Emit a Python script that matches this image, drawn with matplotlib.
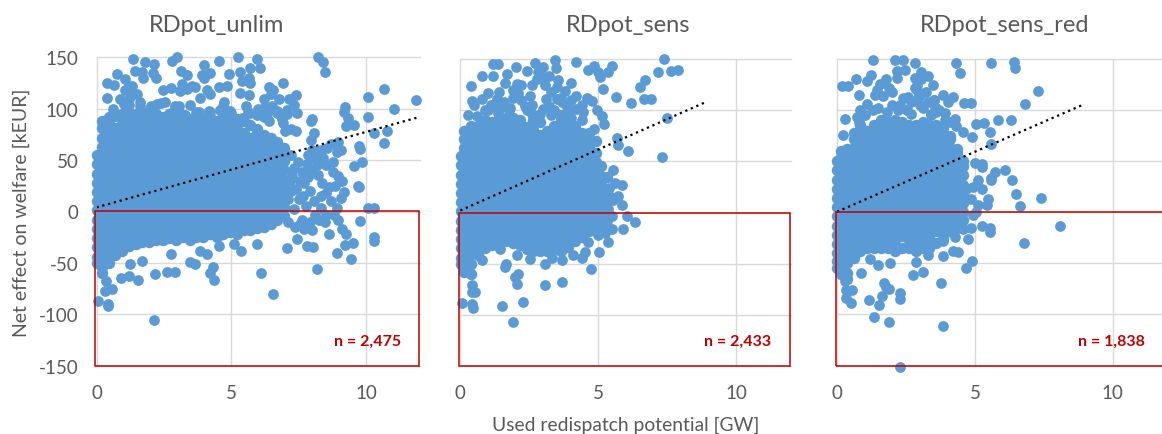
import matplotlib
matplotlib.use("Agg")
import matplotlib.pyplot as plt
from matplotlib.patches import Rectangle

W, H = 1162, 435
titles = ["RDpot_unlim", "RDpot_sens", "RDpot_sens_red"]
counts = ["n = 2,475", "n = 2,433", "n = 1,838"]
y_ticks = [-150, -100, -50, 0, 50, 100, 150]
x_ticks = [0, 5, 10]

# ---- RDpot_unlim: individually readable points (GW, kEUR)
unlim_x = [1.36,1.78,2.14,2.80,2.98,3.97,4.53,5.24,5.95,6.05,8.2,8.4,8.45,3.12,3.35,0.76,0.38,0.63,1.04,1.44,1.68,1.74,2.09,2.22,
           0.38,0.88,1.07,1.31,1.5,1.19,2.45,2.76,3.17,3.54,3.89,4.2,3.97,4.1,4.22,4.53,4.9,4.84,5.33,5.4,5.68,5.64,5.68,5.33,5.64,5.52,
           6.39,6.55,6.92,6.2,6.45,6.76,7.38,7.13,7.32,7.44,7.07,8.0,7.94,9.2,9.15,9.3,9.24,9.52,10.06,10.66,11.83,11.03,10.06,10.75,10.28,
           10.66,9.73,9.77,9.82,9.52,9.67,9.73,9.17,9.05,10.06,10.26,9.75,10.28,10.26,9.5,9.2,9.42,8.92,8.18,7.81,8.03,7.07,7.44,6.52,6.08,
           4.34,4.22,4.32,2.92,2.61,2.18,1.52,1.19,0.9,1.23,1.68,3.48,3.66,4.1,3.85,5.35,4.53,5.95,5.09,2.76,2.12,0.04,0.41,0.44,0.32,0.57,0.36,
           7.2,7.3,7.15,7.4,7.5,7.3,7.1,7.35,7.6,7.7,7.8,7.65,7.9,7.75,7.6,7.7,8.0,8.0,8.1,8.2,8.05,8.3,8.25,8.45,8.35,8.5,8.55,8.7,8.6,8.75,8.8,8.6,8.95,8.7,8.95,9.1,9.25,8.9,9.05,8.95,7.95,7.4,7.2,8.05,7.05,
           0.6,1.0,1.6,2.0,2.4,2.9,3.0,3.7,4.2,4.7,4.6,5.0,5.6,6.0,6.3,6.7,6.4,6.9,7.0,6.2,
           1.19,1.19,1.38,1.62,1.13,2.0,2.24,2.55,3.11,3.36,3.66,3.85,3.48,3.05,2.86,3.29,3.79,4.16,4.59,4.72,4.96,5.4,5.7,6.2,6.51,6.7,6.88,6.3,5.95,
           7.25,7.45,7.55,7.85,8.15,8.3,8.1,8.5,8.85,8.4,8.75,9.1,7.1,7.2,7.55,7.9,8.5,8.9,7.85,7.95,8.3]
unlim_y = [149,146,144,147,150,143,147,150,149,140,150,146,136,137,133,134,125,123,129,137,136,130,135,130,
           111,110,118,122,114,104,118,120,124,122,133,135,130,118,114,121,134,122,136,127,140,130,125,115,113,103,
           121,118,125,110,114,110,113,110,104,96,99,90,88,102,97,91,83,84,112,119,109,100,92,78,76,
           67,64,61,48,44,25,24,19,13,3,3,-9,-25,-29,-31,-33,-46,-40,-56,-34,-35,-36,-27,-80,-60,
           -67,-60,-54,-59,-59,-61,-67,-63,-65,-51,-48,-49,-51,-41,-38,-38,-34,-32,-32,-41,-106,-87,-90,-92,-77,-75,-68,
           55,42,30,22,12,2,-10,-15,38,28,46,15,20,5,-8,-17,-18,60,52,36,10,3,-8,-10,28,45,62,66,24,38,-3,-22,35,10,-8,-17,-22,58,60,68,70,78,80,76,95,
           100,105,103,103,106,103,97,97,97,103,98,96,97,100,96,98,88,86,78,92,
           122,110,114,107,104,102,105,107,117,119,121,111,104,103,98,94,97,98,99,107,98,91,96,101,103,96,90,91,94,
           35,48,30,34,45,15,-3,18,25,52,48,30,12,20,-12,-10,-3,3,55,40,60]

# ---- RDpot_unlim: dense cloud, read column by column
unlim_col_x = [0.02,0.2,0.45,0.7,0.95,1.2,1.45,1.7,1.95,2.2,2.45,2.7,2.95,3.2,3.45,3.7,3.95,4.2,4.45,4.7,4.95,5.2,5.45,5.7,5.95,6.2,6.45,6.7,6.95]
unlim_col_y = [
 [55,46,37,28,19,10,1,-8,-17,-26,-35,-44,-50],
 [88,81,72,63,54,45,36,27,18,9,0,-9,-18,-27,-36,-45,-54,-60],
 [92,85,76,67,58,49,40,31,22,13,4,-5,-14,-23,-32,-41,-50],
 [93,81,72,63,54,45,36,27,18,9,0,-9,-18,-27,-36,-42],
 [95,85,76,67,58,49,40,31,22,13,4,-5,-14,-23,-32,-38],
 [96,90,81,72,63,54,45,36,27,18,9,0,-9,-18,-27,-34],
 [95,85,76,67,58,49,40,31,22,13,4,-5,-14,-23,-32],
 [97,90,81,72,63,54,45,36,27,18,9,0,-9,-18,-27,-30],
 [93,85,76,67,58,49,40,31,22,13,4,-5,-14,-23,-30],
 [95,90,81,72,63,54,45,36,27,18,9,0,-9,-18,-28],
 [92,85,76,67,58,49,40,31,22,13,4,-5,-14,-23,-28],
 [95,90,81,72,63,54,45,36,27,18,9,0,-9,-18,-26],
 [92,85,76,67,58,49,40,31,22,13,4,-5,-14,-23,-28],
 [94,90,81,72,63,54,45,36,27,18,9,0,-9,-18,-25],
 [90,85,76,67,58,49,40,31,22,13,4,-5,-14,-23,-28],
 [92,88,81,72,63,54,45,36,27,18,9,0,-9,-18,-25],
 [90,85,76,67,58,49,40,31,22,13,4,-5,-14,-25],
 [92,88,81,72,63,54,45,36,27,18,9,0,-9,-18,-22],
 [88,85,76,67,58,49,40,31,22,13,4,-5,-14,-25],
 [92,88,81,72,63,54,45,36,27,18,9,0,-9,-18,-22],
 [88,85,76,67,58,49,40,31,22,13,4,-5,-14,-20],
 [90,81,72,63,54,45,36,27,18,9,0,-9,-18,-22],
 [88,76,67,58,49,40,31,22,13,4,-5,-14,-18],
 [84,72,63,54,45,36,27,18,9,0,-9,-18],
 [80,76,67,58,49,40,31,22,13,4,-5,-14,-16],
 [75,72,63,54,45,36,27,18,9,0,-9,-15],
 [72,67,58,49,40,31,22,13,4,-5,-12],
 [68,63,54,45,36,27,18,9,0,-8],
 [62,58,49,40,31,22,13,4,-4],
]

# ---- RDpot_sens
sens_x = [1.2,1.38,2.02,2.4,2.7,3.0,3.43,3.47,4.19,4.61,4.84,5.0,5.06,5.36,5.51,7.39,7.15,7.63,7.87,6.69,6.51,5.16,5.63,6.17,6.65,6.91,7.48,7.29,6.09,5.69,5.72,
          .37,.77,1.2,1.68,1.62,2.07,2.1,2.77,3.07,3.55,3.49,4.0,3.79,2.52,3.1,4.21,4.58,4.76,.41,.77,1.01,1.32,1.5,2.34,3.0,3.49,3.85,4.21,4.46,4.94,5.12,5.21,.29,.59,
          6.34,6.03,5.85,5.85,5.6,5.52,5.72,5.88,5.48,5.36,5.04,4.61,4.72,3.67,3.07,2.1,1.98,2.07,2.28,1.52,1.92,.05,.41,.45,.41,.53,.41,1.65,1.62,3.07,2.52,2.04,3.31,3.7,4.07,4.4,4.52,1.44,.77,
          5.3,5.45,5.2,5.35,5.5,5.3,5.15,5.55,5.4,5.0,5.25,1.0,1.35,1.75,2.6,3.3,3.9,4.4,4.0,4.85,
          .5,.9,1.1,1.3,1.6,1.8,2.2,2.4,2.6,2.9,3.2,3.4,3.7,4.0,3.3,3.65,4.4,1.4,1.9,2.2,2.6,2.9,3.2,3.0,2.8,1.9]
sens_y = [145,145,142,138,146,142,149,141,147,139,143,137,132,137,143,150,137,138,139,129,123,121,113,107,111,111,92,54,60,73,66,
          124,133,133,135,127,126,117,130,125,129,123,127,119,114,111,114,112,109,109,111,117,111,103,104,101,111,103,101,98,100,94,86,95,94,
          -9,-3,7,27,29,42,16,-16,-16,-29,-39,-29,-55,-68,-71,-60,-63,-70,-87,-91,-107,-88,-89,-93,-78,-78,-71,-50,-53,-50,-45,-42,-44,-46,-42,-44,-39,-36,-46,
          20,15,8,3,-3,-8,-14,12,24,-22,-20,100,97,100,96,95,98,90,92,82,
          105,100,105,103,108,102,110,100,105,96,104,100,108,110,118,112,105,118,120,125,125,135,133,132,137,112]
sens_col_x = [0.02,0.15,0.4,0.65,0.9,1.15,1.4,1.65,1.9,2.15,2.4,2.65,2.9,3.15,3.4,3.65,3.9,4.15,4.4,4.65,4.9,5.1,5.3]
sens_col_y = [
 [55,46,37,28,19,10,1,-8,-17,-26,-35,-44,-50],
 [80,72,63,54,45,36,27,18,9,0,-9,-18,-27,-36,-45,-54,-58],
 [85,76,67,58,49,40,31,22,13,4,-5,-14,-23,-32,-41,-50,-60],
 [85,81,72,63,54,45,36,27,18,9,0,-9,-18,-27,-36,-42],
 [90,85,76,67,58,49,40,31,22,13,4,-5,-14,-23,-32,-35],
 [88,81,72,63,54,45,36,27,18,9,0,-9,-18,-27,-32],
 [92,85,76,67,58,49,40,31,22,13,4,-5,-14,-23,-30],
 [92,88,81,72,63,54,45,36,27,18,9,0,-9,-18,-28],
 [92,85,76,67,58,49,40,31,22,13,4,-5,-14,-23,-30],
 [90,81,72,63,54,45,36,27,18,9,0,-9,-18,-27,-32],
 [84,76,67,58,49,40,31,22,13,4,-5,-14,-23,-32,-36],
 [90,81,72,63,54,45,36,27,18,9,0,-9,-18,-27,-38],
 [88,76,67,58,49,40,31,22,13,4,-5,-14,-23,-32,-38],
 [80,72,63,54,45,36,27,18,9,0,-9,-18,-27,-38],
 [85,76,67,58,49,40,31,22,13,4,-5,-14,-23,-32,-36],
 [95,90,81,72,63,54,45,36,27,18,9,0,-9,-18,-27,-38],
 [90,85,76,67,58,49,40,31,22,13,4,-5,-14,-23,-34],
 [85,81,72,63,54,45,36,27,18,9,0,-9,-18,-28],
 [78,67,58,49,40,31,22,13,4,-5,-14,-24],
 [78,72,63,54,45,36,27,18,9,0,-9,-18],
 [70,58,49,40,31,22,13,4,-5,-12],
 [45,36,27,18,9,0,-8],
 [35,22,13,4,-5,-15],
]

# ---- RDpot_sens_red
red_x = [1.31,2.12,2.38,2.82,4.33,4.45,5.6,6.43,6.45,7.3,6.8,5.84,6.3,5.03,5.33,5.54,4.91,5.6,4.99,5.27,5.27,6.08,5.72,5.57,5.6,5.11,6.33,6.48,7.38,6.65,8.09,6.78,
         5.54,5.56,5.24,4.87,4.75,4.91,4.67,4.39,4.21,3.85,3.76,3.12,2.76,2.88,3.3,1.7,1.77,1.89,2.28,2.27,1.62,1.16,1.53,1.35,1.89,3.84,2.27,.31,.53,.33,.49,.87,1.5,1.92,1.19,.29,
         .17,.39,.69,.81,1.07,1.22,1.56,1.77,2.16,2.18,2.46,2.82,3.06,3.3,3.49,2.82,3.24,1.38,1.68,2.28,2.58,3.85,4.21,4.03,4.61,4.87,1.07,.29,.71,1.5,1.8,3.12,3.55,3.93,4.29,4.57,.2,
         4.69,4.93,5.24,5.48,5.44,5.05,4.93,4.87,5.11,4.57,4.27,3.85,2.9,2.95,3.0,2.55,2.7,3.4,3.5,3.6,
         .85,1.0,1.3,2.0,2.4,2.7,3.0,2.9,3.05,3.3,3.5,3.7,2.55,2.2,3.4,3.9,4.1,4.3,.8,1.9,1.45,2.0]
red_y = [149,149,149,146,146,136,146,147,141,119,106,90,90,86,87,79,74,67,48,47,44,41,39,34,32,32,32,18,14,6,-13,-30,
         -15,-19,-13,-15,-26,-48,-55,-39,-38,-43,-69,-58,-61,-49,-42,-69,-73,-75,-79,-85,-82,-86,-91,-103,-107,-111,-151,-76,-76,-84,-89,-59,-52,-50,-46,-67,
         124,124,130,115,128,134,126,130,131,138,139,131,137,133,125,122,118,115,114,105,113,115,113,108,107,107,106,91,93,102,98,102,103,97,91,79,76,
         23,25,23,13,7,0,-3,13,7,-16,-24,-28,120,112,105,100,96,96,110,98,
         100,95,100,105,112,108,115,125,130,108,110,100,100,100,95,90,88,84,88,122,120,118]
red_col_x = [0.0,0.15,0.35,0.6,0.85,1.1,1.35,1.6,1.85,2.1,2.35,2.6,2.85,3.1,3.35,3.6,3.85,4.1,4.35,4.55]
red_col_y = [
 [50,41,32,23,14,5,-4,-13,-22,-31,-40,-48,-55],
 [60,54,45,36,27,18,9,0,-9,-18,-27,-36,-45,-54,-60],
 [62,58,49,40,31,22,13,4,-5,-14,-23,-32,-41,-50,-59,-65],
 [78,72,63,54,45,36,27,18,9,0,-9,-18,-27,-36,-45],
 [85,76,67,58,49,40,31,22,13,4,-5,-14,-23,-32,-38],
 [80,72,63,54,45,36,27,18,9,0,-9,-18,-27,-35],
 [85,76,67,58,49,40,31,22,13,4,-5,-14,-23,-32,-35],
 [90,81,72,63,54,45,36,27,18,9,0,-9,-18,-27,-35],
 [88,85,76,67,58,49,40,31,22,13,4,-5,-14,-23,-32,-35],
 [90,81,72,63,54,45,36,27,18,9,0,-9,-18,-27,-38],
 [88,85,76,67,58,49,40,31,22,13,4,-5,-14,-23,-35],
 [85,81,72,63,54,45,36,27,18,9,0,-9,-18,-27,-35],
 [85,76,67,58,49,40,31,22,13,4,-5,-14,-23,-32,-38],
 [88,81,72,63,54,45,36,27,18,9,0,-9,-18,-27,-35],
 [85,76,67,58,49,40,31,22,13,4,-5,-14,-23,-32,-35],
 [85,81,72,63,54,45,36,27,18,9,0,-9,-18,-30],
 [82,76,67,58,49,40,31,22,13,4,-5,-14,-25],
 [75,72,63,54,45,36,27,18,9,0,-9,-18],
 [62,58,49,40,31,22,13,4,-5,-15],
 [50,45,36,27,18,9,0,-8],
]

# ---- trend lines (GW, kEUR)
trend_x = [[0, 11.95], [0, 8.9], [0, 8.9]]
trend_y = [[4, 92], [2, 108], [0.5, 105]]

point_x = [unlim_x, sens_x, red_x]
point_y = [unlim_y, sens_y, red_y]
column_x = [unlim_col_x, sens_col_x, red_col_x]
column_y = [unlim_col_y, sens_col_y, red_col_y]

# layout in pixels: left edge, right edge (x=12), top, bottom
boxes = [(96.5, 420.5, 58.5, 366.5), (460.3, 791.5, 60, 367), (837, 1168, 60, 366.5)]
title_px = [217, 628, 1005]
count_px = [367.5, 737.5, 1111.5]

GRAY = "#595959"
GRID = "#D9D9D9"
BLUE = "#5B9BD5"
RED = "#C00000"
plt.rcParams["font.family"] = ["Lato", "DejaVu Sans"]
plt.rcParams["axes.unicode_minus"] = False

fig = plt.figure(figsize=(W / 100, H / 100), dpi=100)
for i in range(3):
    l, r, t, b = boxes[i]
    ax = fig.add_axes([l / W, 1 - b / H, (r - l) / W, (b - t) / H])
    ax.set_xlim(0, 12)
    ax.set_ylim(-150, 150)
    ax.set_xticks(x_ticks)
    ax.set_yticks(y_ticks)
    ax.grid(True, color=GRID, lw=1.0, zorder=0)
    ax.set_axisbelow(True)
    for s in ax.spines.values():
        s.set_visible(False)
    ax.tick_params(axis="x", length=0, labelsize=13.5, colors=GRAY, pad=13)
    ax.tick_params(axis="y", length=0, labelsize=13.5, colors=GRAY, pad=13, labelleft=(i == 0))
    for gl in ax.get_xgridlines() + ax.get_ygridlines():
        gl.set_clip_on(False)

    cx_all, cy_all = [], []
    for cx, cy in zip(column_x[i], column_y[i]):
        cx_all += [cx] * len(cy)
        cy_all += cy
    ax.scatter(cx_all, cy_all, s=68, color=BLUE, linewidths=0, zorder=3, clip_on=False)
    ax.scatter(point_x[i], point_y[i], s=60, color=BLUE, linewidths=0, zorder=3, clip_on=False)
    ax.plot(trend_x[i], trend_y[i], color="black", lw=1.6, ls=(0, (1, 1.7)), zorder=4)
    ax.add_patch(Rectangle((-0.04, -150), 11.98, 150, fill=False, edgecolor=RED,
                           lw=1.1, zorder=5, clip_on=False))
    fig.text(title_px[i] / W, 1 - 26 / H, titles[i], ha="center", va="center",
             fontsize=17, color=GRAY)
    fig.text(count_px[i] / W, 1 - 342 / H, counts[i], ha="center", va="center",
             fontsize=11.5, fontweight="bold", color=RED)

fig.text(21 / W, 1 - 213 / H, "Net effect on welfare [kEUR]", rotation=90, ha="center",
         va="center", fontsize=14, color=GRAY)
fig.text(626 / W, 1 - 425 / H, "Used redispatch potential [GW]", ha="center",
         va="center", fontsize=13.9, color=GRAY)
fig.savefig("out.png", dpi=100)
